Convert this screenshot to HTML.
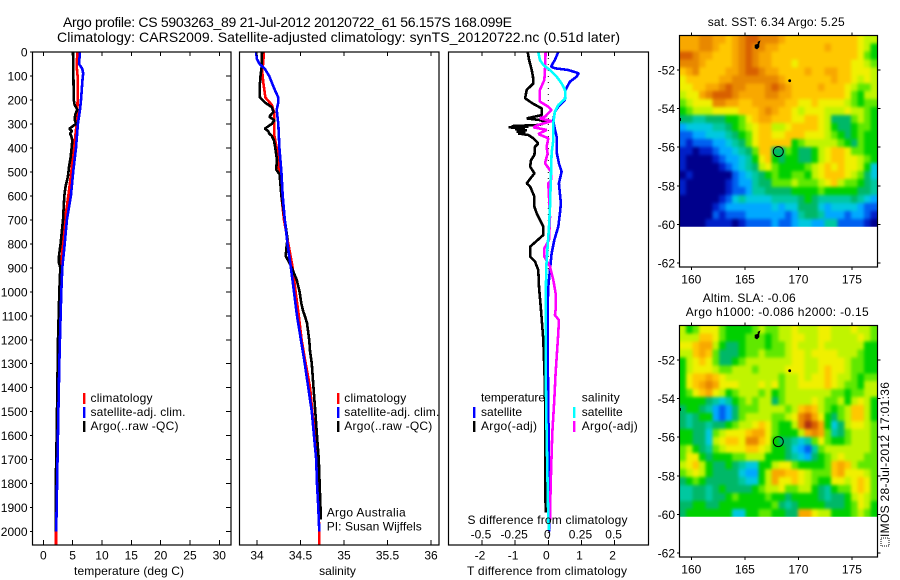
<!DOCTYPE html>
<html>
<head>
<meta charset="utf-8">
<title>Argo profile</title>
<style>
html,body{margin:0;padding:0;background:#fff;}
svg{display:block;}
text{font-family:"Liberation Sans",sans-serif;font-size:12px;fill:#000;}
</style>
</head>
<body>
<svg id="figure" width="900" height="580" viewBox="0 0 900 580" xmlns="http://www.w3.org/2000/svg">
<defs>
<filter id="soft" filterUnits="userSpaceOnUse" x="640" y="0" width="260" height="580" color-interpolation-filters="sRGB"><feGaussianBlur stdDeviation="1.5"/></filter>
<clipPath id="clip-sst"><rect x="679.5" y="35.5" width="198" height="191.2"/></clipPath>
<clipPath id="clip-sla"><rect x="679.5" y="325.5" width="198" height="191.2"/></clipPath>
</defs>
<rect x="0" y="0" width="900" height="580" fill="#fff"/>
<g id="maps"></g>
<g id="series"></g>
<g id="axes"></g>

<text x="63" y="27" style="font-size:14px" textLength="449">Argo profile: CS 5903263_89 21-Jul-2012 20120722_61 56.157S 168.099E</text>
<text x="57" y="42" style="font-size:14px" textLength="563">Climatology: CARS2009. Satellite-adjusted climatology: synTS_20120722.nc (0.51d later)</text>

<text x="129" y="575" text-anchor="middle" textLength="110">temperature (deg C)</text>
<text x="337.5" y="575" text-anchor="middle">salinity</text>
<text x="467.5" y="524" textLength="160">S difference from climatology</text>
<text x="467" y="575" textLength="160">T difference from climatology</text>

<g>
<rect x="83" y="393" width="2.4" height="11" fill="#f00"/>
<text x="90.5" y="402" textLength="62">climatology</text>
<rect x="83" y="407" width="2.4" height="11" fill="#00f"/>
<text x="90.5" y="416" textLength="95">satellite-adj. clim.</text>
<rect x="83" y="421" width="2.4" height="11" fill="#000"/>
<text x="90.5" y="430" textLength="88">Argo(..raw -QC)</text>
</g>
<g>
<rect x="337" y="393" width="2.4" height="11" fill="#f00"/>
<text x="344.3" y="402" textLength="62">climatology</text>
<rect x="337" y="407" width="2.4" height="11" fill="#00f"/>
<text x="344.3" y="416" textLength="95">satellite-adj. clim.</text>
<rect x="337" y="421" width="2.4" height="11" fill="#000"/>
<text x="344.3" y="430" textLength="88">Argo(..raw -QC)</text>
<text x="326.7" y="516.5" textLength="79">Argo Australia</text>
<text x="326.7" y="530.5" textLength="95">PI: Susan Wijffels</text>
</g>
<g>
<text x="481" y="401.5" textLength="64">temperature</text>
<rect x="473" y="407" width="2.4" height="11" fill="#00f"/>
<text x="481" y="416" textLength="41">satellite</text>
<rect x="473" y="421" width="2.4" height="11" fill="#000"/>
<text x="481" y="430" textLength="56">Argo(-adj)</text>
<text x="581.7" y="401.5" textLength="38">salinity</text>
<rect x="573" y="407" width="2.4" height="11" fill="#0ff"/>
<text x="581.7" y="416" textLength="41">satellite</text>
<rect x="573" y="421" width="2.4" height="11" fill="#f0f"/>
<text x="581.7" y="430" textLength="56">Argo(-adj)</text>
</g>

<text x="707.7" y="26" textLength="137">sat. SST: 6.34 Argo: 5.25</text>
<text x="702.7" y="302" textLength="93">Altim. SLA: -0.06</text>
<text x="685.7" y="316" textLength="183">Argo h1000: -0.086 h2000: -0.15</text>

<g transform="translate(889,546) rotate(-90)">
<rect x="0" y="-8" width="8" height="8" fill="none" stroke="#000" stroke-width="1" stroke-dasharray="1 1"/>
<text x="9" y="0" textLength="155">IMOS 28-Jul-2012 17:01:36</text>
</g>
</svg>

<script>
// ---- profile data: depths (m) and values ----
const tempClimDepth = [0,60,100,200,250,300,400,500,600,700,800,900,1000,1200,1500,1700,2000,2055];
const tempClimValues = [5.8,5.7,5.85,5.85,5.8,5.68,5.23,4.77,4.26,3.7,3.3,3.07,2.84,2.67,2.44,2.33,2.16,2.16];
const tempSatDepth = [0,50,70,90,110,200,240,300,400,500,600,700,800,900,1000,1100,1250,1450,1750,2000];
const tempSatValues = [6.25,6.08,6.65,6.8,6.7,6.42,6.25,5.9,5.57,5.1,4.7,4.03,3.64,3.24,3.07,2.95,2.78,2.6,2.39,2.2];
const tempArgoDepth = [0,200,220,240,260,280,300,310,320,330,340,350,370,400,440,480,520,560,600,700,800,850,880,900,1000,1200,1500,1700,1800,2000];
const tempArgoValues = [5.06,5.2,5.34,5.8,5.45,5.34,5.57,5.0,4.43,4.89,4.55,4.77,4.94,4.83,4.66,4.38,4.2,3.8,3.58,3.35,2.95,2.67,2.67,2.9,2.73,2.5,2.33,2.22,2.1,2.1];

const salClimDepth = [0,50,80,120,190,220,250,300,350,400,500,600,700,800,900,1000,1100,1200,1300,1400,1500,1600,1700,1800,2000,2055];
const salClimValues = [34.08,34.07,34.06,34.07,34.096,34.17,34.195,34.2,34.2,34.226,34.257,34.28,34.31,34.36,34.41,34.444,34.48,34.513,34.56,34.61,34.636,34.667,34.686,34.697,34.716,34.716];
const salSatDepth = [0,30,50,70,100,150,190,210,240,300,400,500,600,700,800,900,1000,1100,1200,1300,1400,1500,1600,1700,1800,1900,2000];
const salSatValues = [33.99,34.0,34.03,34.09,34.14,34.195,34.245,34.245,34.226,34.245,34.257,34.28,34.295,34.32,34.35,34.39,34.425,34.46,34.505,34.55,34.59,34.63,34.655,34.68,34.69,34.705,34.716];
const salArgoDepth = [0,60,100,150,190,210,230,250,270,285,300,320,330,340,350,370,400,450,490,510,600,700,780,810,850,900,950,1000,1050,1080,1100,1130,1200,1250,1300,1400,1500,1600,1700,1800,1900,1950];
const salArgoValues = [34.057,34.054,34.04,34.03,34.034,34.09,34.17,34.19,34.14,34.2,34.17,34.09,34.13,34.14,34.17,34.195,34.21,34.23,34.22,34.26,34.28,34.32,34.35,34.34,34.33,34.4,34.456,34.49,34.51,34.53,34.55,34.575,34.6,34.61,34.63,34.65,34.67,34.69,34.71,34.72,34.73,34.73];

const diffTSatDepth = [0,33,61,68,75,89,103,124,158,200,228,249,284,311,353,423,464,499,548,631,673,728,784,840,895,979,1062,1200,1500,1800,2000];
const diffTSatValues = [0.3,0.2,0.08,0.2,0.6,0.92,0.85,0.65,0.52,0.5,0.3,0.2,0.15,0.18,0.25,0.26,0.32,0.4,0.32,0.38,0.35,0.3,0.18,0.1,0.06,0,-0.02,-0.02,0,0.03,0.03];
const diffTArgoDepth = [0,33,75,103,131,158,193,214,235,263,277,284,291,304,309,312,314,318,322,326,332,336,340,346,360,381,395,430,450,478,506,548,561,603,645,673,728,763,812,853,874,909,979,1076,1200,1400,1920];
const diffTArgoValues = [-0.62,-0.58,-0.5,-0.46,-0.45,-0.65,-0.7,-0.48,-0.2,-0.2,-0.65,-0.25,-0.05,-0.25,-1.1,-0.6,-1.2,-0.7,-1.0,-0.65,-0.95,-0.7,-0.9,-0.6,-0.45,-0.3,-0.4,-0.42,-0.52,-0.55,-0.42,-0.65,-0.55,-0.42,-0.42,-0.35,-0.15,-0.15,-0.55,-0.55,-0.4,-0.3,-0.28,-0.22,-0.15,-0.1,-0.08];
const diffSSatDepth = [0,33,54,75,103,131,158,193,221,249,297,367,423,506,645,728,812,895,1062,1172,1314,1589,1952,1993];
const diffSSatValues = [-0.075,-0.063,-0.038,0.013,0.063,0.1,0.126,0.13,0.075,0.05,0.038,0.038,0.025,0.02,0.013,0.005,-0.005,-0.015,-0.02,-0.018,-0.02,-0.013,0,0.005];
const diffSArgoDepth = [0,75,117,158,207,228,242,270,277,288,304,314,325,342,360,395,423,464,499,534,548,603,687,784,819,853,895,951,1006,1076,1097,1118,1172,1339,1451,1589,1756,1922,1952];
const diffSArgoValues = [-0.02,-0.025,-0.03,-0.063,-0.063,0,0.025,-0.025,-0.063,0.025,-0.075,-0.113,-0.013,-0.075,0,-0.013,-0.005,-0.025,0.02,0.02,0,0.005,0.013,0.005,-0.03,-0.03,0.013,0.038,0.055,0.055,0.05,0.08,0.075,0.055,0.045,0.03,0.02,0.013,0.013];

// ---- tick labels ----
const depthTicks = [0,100,200,300,400,500,600,700,800,900,1000,1100,1200,1300,1400,1500,1600,1700,1800,1900,2000];
const tempTicks = [0,5,10,15,20,25,30];
const salTicks = [34,34.5,35,35.5,36];
const salTickLabels = ["34","34.5","35","35.5","36"];
const diffTTicks = [-2,-1,0,1,2];
const diffSTicks = [-0.5,-0.25,0,0.25,0.5];
const diffSTickLabels = ["-0.5","-0.25","0","0.25","0.5"];
const mapLonTicks = [160,165,170,175];
const mapLatTicks = [-52,-54,-56,-58,-60,-62];

// ---- map data: 24 rows north to south, 30 columns west to east (colour level 0-15) ----
const sstRows = [
[12,12,12,13,13,12,12,11,12,13,14,14,13,13,13,12,11,11,11,11,11,11,11,11,11,11,11,10,9,9],
[12,12,12,13,13,12,11,11,12,13,14,13,13,12,12,11,11,11,11,11,11,11,12,11,11,11,11,10,9,7],
[14,14,13,12,12,11,11,11,12,13,14,13,12,12,11,11,11,11,11,11,11,11,11,11,11,11,11,10,8,7],
[13,13,13,12,11,11,11,11,12,13,14,13,12,12,11,11,11,10,11,11,11,11,11,11,11,11,10,10,9,8],
[11,12,13,11,11,11,11,12,12,13,14,14,13,12,12,11,11,11,11,12,11,11,12,12,11,11,10,10,10,9],
[10,11,11,11,11,11,12,12,13,13,13,13,13,13,13,12,11,11,11,11,11,11,11,12,11,11,10,9,10,9],
[10,10,11,11,12,12,13,14,13,13,12,12,12,13,14,13,12,11,11,11,11,12,11,11,11,10,9,8,8,9],
[9,10,10,12,13,14,14,14,13,12,12,12,12,13,13,12,12,11,11,11,11,11,11,11,11,10,8,7,9,9],
[8,9,10,10,10,13,13,12,12,11,11,12,12,12,12,12,11,11,10,10,11,10,10,10,10,9,8,7,8,8],
[7,8,9,9,9,10,10,10,10,11,11,11,12,13,12,11,11,10,9,10,10,10,9,9,9,10,9,9,8,7],
[6,6,5,5,6,6,6,7,7,8,10,11,12,12,11,11,11,10,10,11,11,10,9,6,6,6,8,9,8,7],
[3,4,4,4,4,5,5,6,7,8,9,10,11,11,9,9,10,11,11,11,11,10,9,7,6,6,7,8,8,7],
[2,2,3,3,4,4,4,5,6,7,8,10,11,11,10,10,11,11,11,10,10,10,9,8,7,6,7,8,7,7],
[2,1,2,2,2,3,3,4,5,6,8,10,11,11,11,11,11,7,8,9,9,9,9,9,8,7,6,8,7,7],
[1,1,0,1,1,2,3,3,4,5,6,8,11,11,6,6,8,7,6,6,7,9,10,11,11,10,8,8,7,7],
[1,0,0,0,0,1,2,3,3,4,5,7,10,11,7,6,7,7,6,6,7,9,10,11,11,10,10,9,8,7],
[1,0,0,0,0,0,1,2,3,4,5,6,9,10,8,7,7,7,7,8,9,10,11,10,11,10,10,9,7,4],
[0,1,0,0,0,0,0,0,2,3,4,5,6,7,8,7,7,8,8,7,9,10,11,11,11,10,9,8,6,4],
[1,0,0,0,0,0,0,1,2,3,3,5,6,6,8,8,8,9,8,8,8,9,10,11,9,8,8,7,6,5],
[1,0,0,0,0,0,0,1,2,2,3,5,5,6,6,6,6,7,7,7,7,8,7,7,7,7,7,6,6,5],
[0,0,0,0,0,0,1,2,4,5,4,4,4,4,5,5,5,5,6,7,6,5,5,5,5,5,6,5,4,3],
[0,0,0,0,0,1,2,3,3,3,3,3,3,3,4,3,4,4,6,6,6,4,3,4,4,4,4,3,2,2],
[0,0,0,0,0,2,1,2,2,2,3,3,3,3,3,3,2,3,5,6,6,5,3,3,3,2,3,3,2,1],
[0,0,0,0,1,1,1,1,0,1,2,2,2,2,3,2,2,3,4,4,3,3,5,5,2,2,2,2,1,0]
];
const slaRows = [
[9,7,8,10,10,10,8,7,7,7,7,8,9,8,8,9,9,10,9,9,9,10,10,9,9,9,10,9,9,8],
[9,9,9,11,11,10,8,7,7,7,8,8,8,7,8,9,9,10,10,9,9,10,10,9,9,9,9,10,9,8],
[10,10,11,12,12,9,7,6,6,7,8,8,8,7,8,8,9,10,9,9,9,10,9,9,9,9,9,9,7,7],
[9,9,11,12,11,8,6,6,6,7,8,8,9,8,8,8,9,10,10,9,10,10,10,10,9,9,9,8,7,7],
[7,9,10,11,10,8,6,6,7,8,9,9,9,9,9,9,9,10,10,9,9,10,10,10,10,9,8,8,7,7],
[7,9,10,10,10,9,8,8,9,9,9,8,9,9,9,9,10,10,10,9,9,10,11,10,10,9,8,8,7,7],
[7,10,11,11,12,11,10,9,9,9,9,9,9,9,9,8,9,9,10,9,10,10,11,10,9,9,8,7,8,8],
[7,10,11,12,13,12,10,10,10,9,9,9,10,9,10,8,9,9,10,10,10,10,11,10,9,8,8,7,9,9],
[7,8,10,11,12,10,9,7,8,9,9,9,8,9,7,8,9,9,9,9,9,9,9,8,8,7,8,8,9,9],
[7,7,7,7,6,5,4,5,7,8,9,8,9,9,6,8,9,9,9,9,10,9,8,8,9,7,9,10,9,7],
[6,7,7,6,5,3,2,3,6,8,8,8,9,9,9,9,8,9,11,12,11,9,8,7,8,9,11,11,9,7],
[6,5,6,7,7,3,2,3,6,8,9,9,9,9,8,8,9,10,13,14,12,10,7,6,8,9,11,11,9,7],
[6,5,6,6,5,6,6,7,8,9,9,10,11,10,8,7,7,9,13,15,14,12,7,4,6,9,10,10,9,8],
[7,7,6,6,4,8,9,10,10,10,11,12,12,10,8,7,7,7,9,12,13,12,8,5,6,8,9,9,9,8],
[7,7,6,6,4,9,10,11,11,10,13,13,11,10,7,6,6,5,4,5,8,10,8,7,7,8,9,9,9,8],
[8,9,7,6,5,8,9,10,10,10,11,11,10,9,7,7,6,4,3,2,5,8,9,9,9,9,9,9,9,8],
[8,10,10,7,6,7,7,7,8,8,9,9,9,7,7,7,6,5,4,3,6,7,8,9,10,9,9,9,8,8],
[9,10,11,9,7,6,6,7,6,5,4,4,7,7,9,10,10,8,7,7,7,7,8,11,12,11,9,8,8,8],
[8,9,10,9,7,6,6,6,6,4,3,3,7,9,12,12,11,11,10,9,8,8,8,11,12,10,10,10,9,8],
[6,7,8,7,6,6,6,6,6,5,4,4,7,9,12,10,10,11,10,9,8,7,7,10,10,9,10,11,10,8],
[5,5,6,6,5,6,7,6,6,6,6,7,8,9,9,10,8,8,9,9,7,6,5,7,8,8,10,11,10,8],
[5,5,6,6,5,6,6,7,8,7,7,7,7,8,7,7,6,7,7,7,7,6,5,6,6,7,9,10,9,8],
[6,6,7,7,6,6,7,7,7,7,7,7,7,7,8,6,5,6,7,7,7,7,6,6,6,7,8,10,9,7],
[6,7,7,7,7,7,7,7,4,4,7,7,8,8,7,7,6,6,12,12,10,9,9,7,7,7,8,9,8,7]
];

// ---- axis functions ----
const NS = "http://www.w3.org/2000/svg";
const yDepth = d => 52 + d * 0.2398;
const xTemp = t => 43.3 + t * 5.867;
const xSal = s => 257 + (s - 34) * 87;
const xDiffT = t => 548.3 + t * 33.17;
const xDiffS = s => 548.3 + s * 132.68;
const xLon = lon => 691.3 + (lon - 160) * 10.71;
const yLat = (lat, off) => off + 70 + (-52 - lat) * 19.3;

const levelColor = v => ["#00008c","#0020c8","#0060f0","#00a8ff","#00c8e0","#00c8a0","#00b868","#00d000","#60e800","#c0f400","#f0f000","#ffc800","#f8a800","#e88800","#d86000","#b03010"][Math.max(0, Math.min(15, Math.round(v)))];

function make(tag, parent, attrs, txt) {
  const n = document.createElementNS(NS, tag);
  for (const k in attrs) n.setAttribute(k, attrs[k]);
  if (txt !== undefined) n.textContent = txt;
  parent.appendChild(n);
  return n;
}

const seriesLayer = document.getElementById("series");
const axesLayer = document.getElementById("axes");
const mapsLayer = document.getElementById("maps");

// ---- profile lines ----
function drawProfile(depths, values, xFn, color, width, name) {
  const pts = depths.map((d, i) => xFn(values[i]).toFixed(1) + "," + yDepth(d).toFixed(1)).join(" ");
  const line = make("polyline", seriesLayer, {points: pts, fill: "none", stroke: color, "stroke-width": width, "shape-rendering": "crispEdges", "stroke-linejoin": "bevel"});
  
  
}
drawProfile(tempClimDepth, tempClimValues, xTemp, "#f00", 2.6, "temperature-climatology-line");
drawProfile(tempArgoDepth, tempArgoValues, xTemp, "#000", 2.6, "temperature-argo-line");
drawProfile(tempSatDepth, tempSatValues, xTemp, "#00f", 2.6, "temperature-satellite-line");
drawProfile(salClimDepth, salClimValues, xSal, "#f00", 2.6, "salinity-climatology-line");
drawProfile(salArgoDepth, salArgoValues, xSal, "#000", 2.6, "salinity-argo-line");
drawProfile(salSatDepth, salSatValues, xSal, "#00f", 2.6, "salinity-satellite-line");

const zeroLine = make("line", seriesLayer, {x1: xDiffT(0), y1: 52, x2: xDiffT(0), y2: 545, stroke: "#000", "stroke-width": 1, "stroke-dasharray": "1 5"});


drawProfile(diffTArgoDepth, diffTArgoValues, xDiffT, "#000", 2.6, "t-difference-argo-line");
drawProfile(diffTSatDepth, diffTSatValues, xDiffT, "#00f", 2.6, "t-difference-satellite-line");
drawProfile(diffSArgoDepth, diffSArgoValues, xDiffS, "#f0f", 2.6, "s-difference-argo-line");
drawProfile(diffSSatDepth, diffSSatValues, xDiffS, "#0ff", 2.6, "s-difference-satellite-line");

// ---- panel frames and ticks ----
const panelFrames = [[32.5,231],[239.5,439],[448.5,648.5]];
panelFrames.forEach(f => {
  const frame = make("rect", axesLayer, {x: f[0], y: 52, width: f[1] - f[0], height: 493, fill: "none", stroke: "#000", "stroke-width": 1.2});
  
  
});

function tickLine(x1, y1, x2, y2) {
  const t = make("line", axesLayer, {x1: x1, y1: y1, x2: x2, y2: y2, stroke: "#000", "stroke-width": 1, "shape-rendering": "crispEdges"});
  
  
}
function tickText(x, y, anchor, label) {
  const t = make("text", axesLayer, {x: x, y: y, "text-anchor": anchor}, label);
  
  
}

depthTicks.forEach(d => {
  const y = yDepth(d);
  tickLine(30, y, 32.5, y);
  tickLine(226, y, 231, y);
  tickText(27.5, y + 4.5, "end", String(d));
});
tempTicks.forEach(t => {
  const x = xTemp(t);
  tickLine(x, 52, x, 56);
  tickLine(x, 540, x, 545);
  tickText(x, 559.5, "middle", String(t));
});
salTicks.forEach((s, i) => {
  const x = xSal(s);
  tickLine(x, 52, x, 56);
  tickLine(x, 540, x, 545);
  tickText(x, 559.5, "middle", salTickLabels[i]);
});
diffTTicks.forEach(t => {
  const x = xDiffT(t);
  tickLine(x, 52, x, 56);
  tickLine(x, 540, x, 545);
  tickText(x - 2, 559.5, "middle", String(t));
});
diffSTicks.forEach((s, i) => {
  tickText(xDiffS(s) - 1, 538.5, "middle", diffSTickLabels[i]);
});

// ---- maps ----
const lonMin = 158.88, lonMax = 177.37, latMax = -50.21, latMin = -60.12;
function drawMap(rows, off, cellName, clipId) {
  const dLon = (lonMax - lonMin) / rows[0].length;
  const dLat = (latMax - latMin) / rows.length;
  const clipGroup = make("g", mapsLayer, {"clip-path": "url(#" + clipId + ")"});
  
  
  const cellGroup = make("g", clipGroup, {filter: "url(#soft)"});
  
  
  rows.forEach((row, r) => {
    row.forEach((v, c) => {
      let x0 = xLon(lonMin + c * dLon), x1 = xLon(lonMin + (c + 1) * dLon);
      let y0 = yLat(latMax - r * dLat, off), y1 = yLat(latMax - (r + 1) * dLat, off);
      if (c === 0) x0 -= 8;
      if (c === row.length - 1) x1 += 8;
      if (r === 0) y0 -= 8;
      if (r === rows.length - 1) y1 += 8;
      const cell = make("rect", cellGroup, {x: x0.toFixed(2), y: y0.toFixed(2), width: (x1 - x0 + 0.4).toFixed(2), height: (y1 - y0 + 0.4).toFixed(2), fill: levelColor(v), "shape-rendering": "crispEdges"});
      
      
    });
  });
  const frame = make("rect", mapsLayer, {x: 679.5, y: off + 35.5, width: 198, height: 231.5, fill: "none", stroke: "#000", "stroke-width": 1.2});
  
  

  mapLonTicks.forEach(lon => {
    const x = xLon(lon);
    const a = make("line", mapsLayer, {x1: x, y1: off + 32.5, x2: x, y2: off + 35.5, stroke: "#000", "stroke-width": 1, "shape-rendering": "crispEdges"});
    
    
    const b = make("line", mapsLayer, {x1: x, y1: off + 267, x2: x, y2: off + 270, stroke: "#000", "stroke-width": 1, "shape-rendering": "crispEdges"});
    
    
    const t = make("text", mapsLayer, {x: x, y: off + 283.5, "text-anchor": "middle"}, String(lon));
    
    
  });
  mapLatTicks.forEach(lat => {
    const y = yLat(lat, off);
    const a = make("line", mapsLayer, {x1: 677, y1: y, x2: 679.5, y2: y, stroke: "#000", "stroke-width": 1, "shape-rendering": "crispEdges"});
    
    
    const b = make("line", mapsLayer, {x1: 877.5, y1: y, x2: 880.5, y2: y, stroke: "#000", "stroke-width": 1, "shape-rendering": "crispEdges"});
    
    
    const t = make("text", mapsLayer, {x: 675, y: y + 4.5, "text-anchor": "end"}, String(lat));
    
    
  });

  const island = make("path", mapsLayer, {d: "M" + 755 + " " + (off + 45) + " l3 -1 l0 -2 l2 -1 l-1 3 l0 3 l-2 2 l-2 -1 z", fill: "#000", stroke: "#000", "stroke-width": 0.6});
  
  
  const islet = make("circle", mapsLayer, {cx: 789.7, cy: off + 80.7, r: 1.4, fill: "#000"});
  
  
  const edge = make("rect", mapsLayer, {x: 679.5, y: off + 118, width: 1.5, height: 3, fill: "#000"});
  
  
  const marker = make("circle", mapsLayer, {cx: 778.3, cy: off + 151.6, r: 5, fill: "none", stroke: "#000", "stroke-width": 1});
  
  
}
drawMap(sstRows, 0, "sst-cell", "clip-sst");
drawMap(slaRows, 290, "sla-cell", "clip-sla");
</script>
</body>
</html>
